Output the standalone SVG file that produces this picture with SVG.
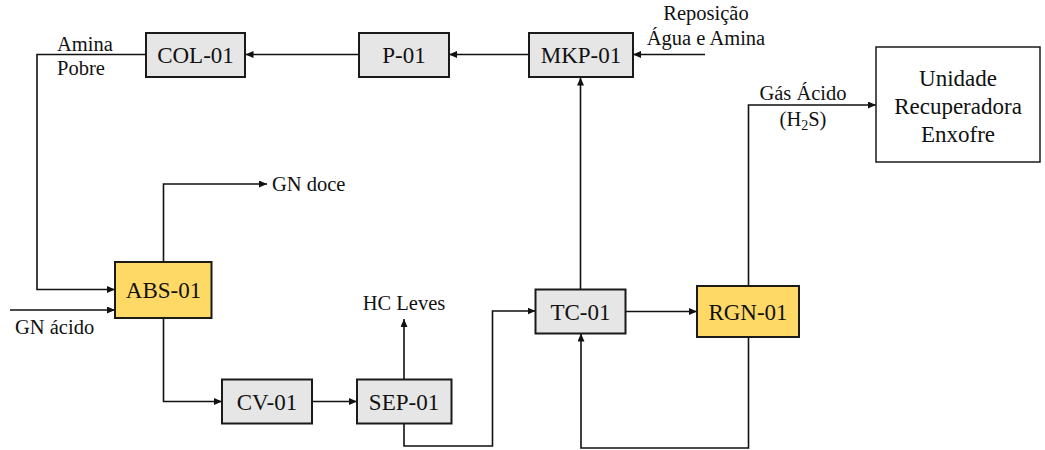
<svg xmlns="http://www.w3.org/2000/svg" width="1045" height="450" viewBox="0 0 1045 450">
<style>
.n{fill:#e7e6e6;stroke:#1a1a1a;stroke-width:2}
.y{fill:#ffd966;stroke:#1a1a1a;stroke-width:2}
.w{fill:#ffffff;stroke:#1a1a1a;stroke-width:1.5}
.t{font-family:"Liberation Serif","Times New Roman",serif;font-size:23px;fill:#111;text-anchor:middle}
.l{font-family:"Liberation Serif","Times New Roman",serif;font-size:20.5px;fill:#111}
.c{fill:none;stroke:#111;stroke-width:1.6}
</style>
<defs>
<marker id="a" markerWidth="8" markerHeight="8" refX="8" refY="3.5" orient="auto" markerUnits="userSpaceOnUse">
<path d="M0,0 L8,3.5 L0,7 z" fill="#111"/>
</marker>
</defs>
<rect width="1045" height="450" fill="#ffffff"/>
<g id="connectors">
<path class="c" d="M146,54.5 H37 V289.5 H115" marker-end="url(#a)"/>
<path class="c" d="M10,310 H115" marker-end="url(#a)"/>
<path class="c" d="M163.5,262 V184 H267" marker-end="url(#a)"/>
<path class="c" d="M163.5,318 V401.5 H222" marker-end="url(#a)"/>
<path class="c" d="M312,401.5 H357" marker-end="url(#a)"/>
<path class="c" d="M404,379 V319" marker-end="url(#a)"/>
<path class="c" d="M404,423 V446 H492.5 V311 H535.5" marker-end="url(#a)"/>
<path class="c" d="M625.5,311.5 H697" marker-end="url(#a)"/>
<path class="c" d="M748.5,337 V448 H581 V333.5" marker-end="url(#a)"/>
<path class="c" d="M580.5,289 V77.5" marker-end="url(#a)"/>
<path class="c" d="M529,54.5 H449" marker-end="url(#a)"/>
<path class="c" d="M359,54.5 H245.5" marker-end="url(#a)"/>
<path class="c" d="M705,54.5 H633" marker-end="url(#a)"/>
<path class="c" d="M748.5,286 V105 H876" marker-end="url(#a)"/>
</g>
<g id="labels">
<text class="l" x="57" y="51">Amina</text>
<text class="l" x="57" y="75">Pobre</text>
<text class="l" x="706" y="20" text-anchor="middle">Reposição</text>
<text class="l" x="706" y="45" text-anchor="middle">Água e Amina</text>
<text class="l" x="803" y="100" text-anchor="middle">Gás Ácido</text>
<text class="l" x="803" y="126" text-anchor="middle">(H<tspan font-size="14" dy="4">2</tspan><tspan dy="-4">S)</tspan></text>
<text class="l" x="272" y="191">GN doce</text>
<text class="l" x="15" y="334">GN ácido</text>
<text class="l" x="404" y="310" text-anchor="middle">HC Leves</text>
</g>
<g id="COL-01"><rect class="n" x="146" y="33" width="99" height="44"/><text class="t" x="195.5" y="63">COL-01</text></g>
<g id="P-01"><rect class="n" x="359" y="33" width="90" height="44"/><text class="t" x="404" y="63">P-01</text></g>
<g id="MKP-01"><rect class="n" x="529" y="33" width="104" height="44"/><text class="t" x="581" y="63">MKP-01</text></g>
<g id="URE"><rect class="w" x="876" y="47" width="164" height="115"/>
<text class="t" x="958" y="86">Unidade</text>
<text class="t" x="958" y="114">Recuperadora</text>
<text class="t" x="958" y="142">Enxofre</text></g>
<g id="ABS-01"><rect class="y" x="115" y="262" width="96.5" height="56"/><text class="t" x="163.5" y="298">ABS-01</text></g>
<g id="CV-01"><rect class="n" x="222" y="379.5" width="90" height="44"/><text class="t" x="267" y="409.5">CV-01</text></g>
<g id="SEP-01"><rect class="n" x="357" y="379.5" width="94.5" height="44"/><text class="t" x="404" y="409.5">SEP-01</text></g>
<g id="TC-01"><rect class="n" x="535.5" y="289.5" width="90" height="44"/><text class="t" x="580.5" y="319.5">TC-01</text></g>
<g id="RGN-01"><rect class="y" x="697" y="286" width="102" height="51"/><text class="t" x="748" y="319.5">RGN-01</text></g>
</svg>
